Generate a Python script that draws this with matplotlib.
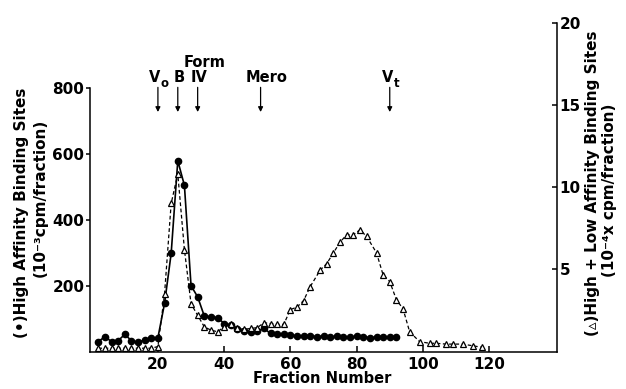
import matplotlib
matplotlib.use('Agg')
import matplotlib.pyplot as plt

plt.rcParams['font.family'] = ['DejaVu Sans']
plt.rcParams['font.weight'] = 'bold'

# high affinity sites (filled circles, left axis, 10^-3 cpm/fraction)
circle_frac = list(range(2, 93, 2))
circle_cpm = [30, 45, 30, 33, 52, 33, 28, 35, 40, 42,
              146, 298, 580, 505, 200, 166, 108, 105, 103, 85,
              80, 68, 62, 60, 62, 70, 55, 52, 52, 50,
              48, 46, 48, 45, 47, 45, 46, 45, 44, 46,
              45, 42, 44, 43, 44, 43]

# high + low affinity sites (open triangles, right axis, 10^-4 cpm/fraction)
tri_frac = [2, 4, 6, 8, 10, 12, 14, 16, 18, 20,
            22, 24, 26, 28, 30, 32, 34, 36, 38, 40,
            42, 44, 46, 48, 50, 52, 54, 56, 58, 60,
            62, 64, 66, 69, 71, 73, 75, 77, 79, 81,
            83, 86, 88, 90, 92, 94, 96, 99, 102, 104,
            107, 109, 112, 115, 118]
tri_cpm = [0.2, 0.2, 0.2, 0.2, 0.2, 0.2, 0.2, 0.2, 0.2, 0.3,
           3.5, 9.0, 10.8, 6.2, 2.9, 2.2, 1.5, 1.3, 1.2, 1.5,
           1.65, 1.4, 1.35, 1.4, 1.45, 1.75, 1.7, 1.65, 1.65, 2.55,
           2.7, 3.1, 3.95, 4.95, 5.35, 6.0, 6.65, 7.1, 7.1, 7.4,
           7.0, 6.0, 4.65, 4.25, 3.15, 2.6, 1.2, 0.6, 0.5, 0.5,
           0.45, 0.45, 0.45, 0.35, 0.25]

# elution markers
marker_frac = [20, 26, 32, 51, 90]

fig = plt.figure(figsize=(6.26, 3.89), dpi=100)
ax = fig.add_axes([0.1438, 0.0964, 0.7460, 0.8456])
ax2 = ax.twinx()

ax.plot(circle_frac, circle_cpm, color='black', lw=1.2, marker='o',
        ms=4.5, mfc='black', mec='black', zorder=3)
ax2.plot(tri_frac, tri_cpm, color='black', lw=0.9, dashes=(3, 2),
         marker='^', ms=4, mfc='white', mec='black', mew=0.9)

ax.set_xlim(-0.5, 140.5)
ax.set_ylim(0, 1000)
ax2.set_ylim(0, 20)

ax.set_xticks([20, 40, 60, 80, 100, 120])
ax.set_yticks([200, 400, 600, 800])
ax2.set_yticks([5, 10, 15, 20])

for a in (ax, ax2):
    a.spines['top'].set_visible(False)
    for s in a.spines.values():
        s.set_linewidth(1.1)
ax.spines['right'].set_visible(False)
ax2.spines['left'].set_visible(False)
ax2.spines['bottom'].set_visible(False)
ax.spines['left'].set_bounds(0, 800)

ax.tick_params(axis='x', direction='in', length=4.5, width=1.1, pad=4, labelsize=11)
ax.tick_params(axis='y', direction='out', length=3, width=1.1, pad=1, labelsize=11)
ax2.tick_params(axis='y', direction='in', length=3.5, width=1.1, pad=2, labelsize=11)
for lab in ax.get_xticklabels() + ax.get_yticklabels() + ax2.get_yticklabels():
    lab.set_fontweight('bold')

# arrows for the markers
for f in marker_frac:
    ax.annotate('', xy=(f, 728), xytext=(f, 803),
                arrowprops=dict(arrowstyle='-|>', color='black', lw=0.9,
                                mutation_scale=7, shrinkA=0, shrinkB=0))

kw = dict(fontsize=10.5, fontweight='bold', ha='center', va='baseline')
ax.text(19.0, 819, 'V', **kw)
ax.text(21.9, 805, 'o', fontsize=8.5, fontweight='bold', ha='center', va='baseline')
ax.text(26.3, 819, 'B', **kw)
ax.text(32.5, 819, 'IV', **kw)
ax.text(34.0, 865, 'Form', **kw)
ax.text(52.8, 819, 'Mero', **kw)
ax.text(89.3, 819, 'V', **kw)
ax.text(92.2, 803, 't', fontsize=8.5, fontweight='bold', ha='center', va='baseline')

fig.text(0.515, 0.026, 'Fraction Number', fontsize=10.5, fontweight='bold',
         ha='center', va='center')

fig.text(0.034, 0.452, '(\u2022)High Affinity Binding Sites', rotation=90,
         fontsize=11, fontweight='bold', ha='center', va='center')
fig.text(0.064, 0.491, '(10\u207b\u00b3cpm/fraction)', rotation=90,
         fontsize=11, fontweight='bold', ha='center', va='center')
fig.text(0.946, 0.530, '(\u25b5)High + Low Affinity Binding Sites', rotation=90,
         fontsize=11, fontweight='bold', ha='center', va='center')
fig.text(0.974, 0.512, '(10\u207b\u2074x cpm/fraction)', rotation=90,
         fontsize=11, fontweight='bold', ha='center', va='center')

fig.savefig('out.png', dpi=100)
